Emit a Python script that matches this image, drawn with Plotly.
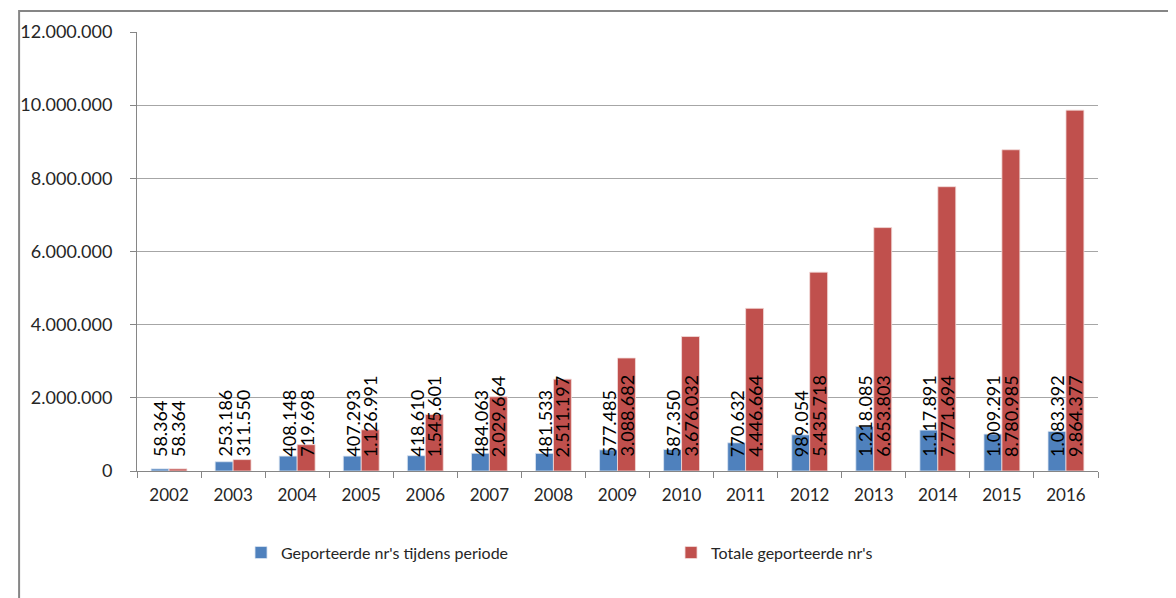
import plotly.graph_objects as go

years = ["2002", "2003", "2004", "2005", "2006", "2007", "2008", "2009",
         "2010", "2011", "2012", "2013", "2014", "2015", "2016"]
period_vals = [58364, 253186, 408148, 407293, 418610, 484063, 481533, 577485,
               587350, 770632, 989054, 1218085, 1117891, 1009291, 1083392]
total_vals = [58364, 311550, 719698, 1126991, 1545601, 2029664, 2511197, 3088682,
              3676032, 4446664, 5435718, 6653803, 7771694, 8780985, 9864377]
series_names = ["Geporteerde nr's tijdens periode", "Totale geporteerde nr's"]
y_ticks = [0, 2000000, 4000000, 6000000, 8000000, 10000000, 12000000]

BLUE = "#4F81BD"
RED = "#C0504D"
FONT = "Lato"


def fmt(v):
    return f"{v:,}".replace(",", ".")


fig = go.Figure()
fig.add_trace(go.Bar(x=years, y=period_vals, name=series_names[0],
                     marker=dict(color=BLUE, line=dict(color="#dbe5f1", width=0.8))))
fig.add_trace(go.Bar(x=years, y=total_vals, name=series_names[1],
                     marker=dict(color=RED, line=dict(color="#f2dcdb", width=0.8))))

annotations = []
for i, yr in enumerate(years):
    for vals, shift in ((period_vals, -9), (total_vals, 9)):
        annotations.append(dict(
            x=i, y=0, xref="x", yref="y", text=fmt(vals[i]), showarrow=False,
            textangle=-90, xanchor="center", yanchor="bottom",
            xshift=shift, yshift=12,
            font=dict(family=FONT, size=18, color="#000000"),
        ))

# the page body adds an 8px offset, so the figure is drawn 8px smaller
OFF = 8
W, H = 1176 - OFF, 598 - OFF
L, T = 128 - OFF, 30 - OFF
pw, ph = 970, 441
R, B = W - L - pw, H - T - ph

fig.update_layout(
    width=W, height=H,
    margin=dict(l=L, r=R, t=T, b=B),
    paper_bgcolor="white", plot_bgcolor="white",
    barmode="group", bargap=0.44, bargroupgap=0,
    separators=",.",
    font=dict(family=FONT, size=18, color="#262626"),
    annotations=annotations,
    showlegend=True,
    legend=dict(orientation="h", x=(225 - L) / pw, xanchor="left",
                y=(ph - (545 - T)) / ph, yanchor="middle",
                entrywidth=385, entrywidthmode="pixels",
                font=dict(family=FONT, size=16, color="#262626"),
                traceorder="normal"),
    shapes=[dict(type="rect", xref="paper", yref="paper",
                 x0=(1 - L) / pw, x1=1.5, y0=-1, y1=(ph + (T - 1)) / ph,
                 line=dict(color="#868686", width=2), layer="below")],
)
fig.update_xaxes(
    type="category", range=[-0.5, len(years) - 0.5], autorange=False,
    showline=True, linecolor="#868686", linewidth=1,
    ticks="outside", tickson="boundaries", ticklen=6, tickcolor="#868686",
    tickfont=dict(family=FONT, size=17, color="#262626"), ticklabelstandoff=9,
    tickangle=0, showgrid=False,
)
fig.update_yaxes(
    range=[0, 12000000], autorange=False, tickvals=y_ticks,
    ticktext=[fmt(v) for v in y_ticks],
    showline=True, linecolor="#868686", linewidth=1,
    ticks="outside", ticklen=6, tickcolor="#868686",
    showgrid=True, gridcolor="#a6a6a6", gridwidth=1,
    tickfont=dict(family=FONT, size=18, color="#262626"), ticklabelstandoff=14,
    zeroline=False,
)

fig.write_html("out.html")
